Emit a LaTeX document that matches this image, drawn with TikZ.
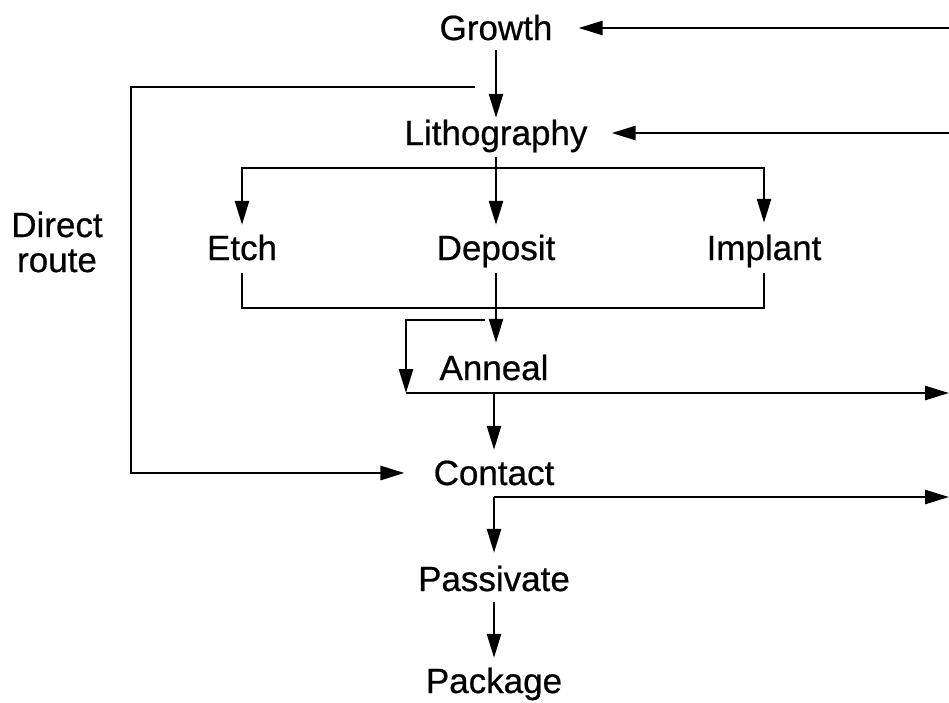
\documentclass[tikz,border=0pt]{standalone}
\usepackage{fontspec}
\setmainfont{Liberation Sans}
\newfontfamily\stagefont{Liberation Sans}[FakeBold=0.6]
\usetikzlibrary{arrows.meta,calc}
\begin{document}
\begin{tikzpicture}[x=1pt,y=-1pt,
  flow/.style={line width=2.6pt},
  arr/.style={flow,-{Triangle[length=24pt,width=14pt]}},
  stage/.style={anchor=base,inner sep=0pt,text height=24pt,text depth=0pt,
                font=\stagefont\fontsize{35}{35}\selectfont}]
\useasboundingbox (0,0) rectangle (949,702);

% process stages
\node[stage] (g) at (496,40)  {Growth};
\node[stage] (l) at (496,145) {Lithography};
\node[stage] (e) at (242,260) {Etch};
\node[stage] (d) at (496,260) {Deposit};
\node[stage] (i) at (764,260) {Implant};
\node[stage] (a) at (494,380) {Anneal};
\node[stage] (c) at (494,485) {Contact};
\node[stage] (p) at (494,591) {Passivate};
\node[stage] (k) at (494,693) {Package};
\node[inner sep=0pt,align=center,font=\stagefont\fontsize{35}{35}\selectfont] (dr) at (57,242) {Direct\\route};

% junctions and loose ends
\coordinate (rg) at (949,28);
\coordinate (rl) at (949,133);
\coordinate (ra) at (949,393);
\coordinate (rc) at (949,497);
\coordinate (sp) at (496,168);
\coordinate (spL) at (242,168);
\coordinate (spR) at (764,168);
\coordinate (jL) at (242,308);
\coordinate (jR) at (764,308);
\coordinate (bL1) at (485,320);
\coordinate (bL2) at (406,320);
\coordinate (bL3) at (406,393);
\coordinate (ab) at (494,393);
\coordinate (cb) at (494,497);
\coordinate (dtop) at (475,87);
\coordinate (dc1) at (131,87);
\coordinate (dc2) at (131,473);

% returns from the right
\draw[arr,shorten >=26pt] (rg) -- (g.east |- rg);
\draw[arr,shorten >=24pt] (rl) -- (l.east |- rl);

% main column
\draw[arr,shorten <=10pt,shorten >=3pt] (g.south) -- (g.south |- l.north);
\draw[arr,shorten <=12pt,shorten >=11pt] (l.south) -- (d.north);
\draw[arr,shorten >=11pt] (sp) -- (spL) -- (e.north);
\draw[arr,shorten >=13pt] (sp) -- (spR) -- (i.north);
\draw[flow,shorten <=13pt,shorten >=13pt] (e.south) -- (jL) -- (jR) -- (i.south);
\draw[arr,shorten <=13pt,shorten >=13pt] (d.south) -- (d.south |- a.north);
\draw[arr] (bL1) -- (bL2) -- (bL3);
\draw[arr] (bL3) -- (ra);
\draw[arr,shorten >=11pt] (ab) -- (c.north);
\draw[arr] (cb) -- (rc);
\draw[arr,shorten >=14pt] (cb) -- (p.north);
\draw[arr,shorten <=11pt,shorten >=11pt] (p.south) -- (k.north);

% direct route around the patterning steps
\draw[arr,shorten >=29pt] (dtop) -- (dc1) -- (dc2) -- (c.west |- dc2);
\end{tikzpicture}
\end{document}
